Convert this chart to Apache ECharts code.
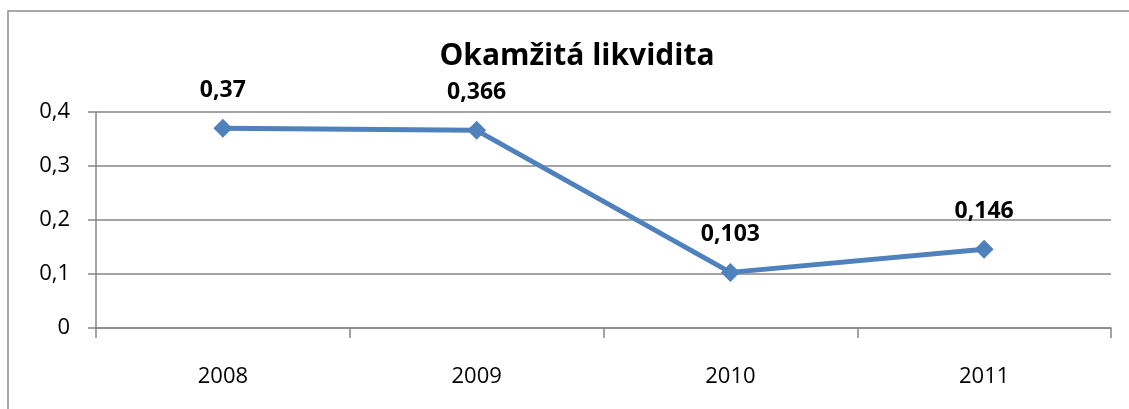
<!DOCTYPE html>
<html>
<head>
<meta charset="utf-8">
<script src="https://cdn.jsdelivr.net/npm/echarts@6/dist/echarts.min.js"></script>
<style>
html, body { margin: 0; padding: 0; background: #fff; }
#graf { width: 1129px; height: 409px; }
</style>
</head>
<body>
<div id="graf"></div>
<script>
var roky = ['2008', '2009', '2010', '2011'];
var hodnoty = [0.37, 0.366, 0.103, 0.146];
var nadpis = 'Okamžitá likvidita';

function carka(v) {
    return String(v).replace('.', ',');
}

var graf = echarts.init(document.getElementById('graf'));

var option = {
    animation: false,
    backgroundColor: '#fff',
    title: {
        text: nadpis,
        left: 572,
        top: 36,
        textAlign: 'center',
        textStyle: { fontFamily: 'Open Sans', fontWeight: 'bold', fontSize: 30, color: '#000' }
    },
    graphic: [{
        type: 'rect',
        shape: { x: 8, y: 11, width: 1140, height: 420 },
        style: { fill: 'none', stroke: '#8c8c8c', lineWidth: 1.5 }
    }],
    grid: { left: 96, right: 18, top: 112, bottom: 81 },
    xAxis: {
        type: 'category',
        data: roky,
        boundaryGap: true,
        axisLine: { lineStyle: { color: '#868686', width: 1.5 } },
        axisTick: { show: true, length: 10, inside: false, lineStyle: { color: '#868686', width: 1.5 } },
        axisLabel: { margin: 38, color: '#000', fontSize: 22, fontFamily: 'Open Sans' }
    },
    yAxis: {
        type: 'value',
        min: 0,
        max: 0.4,
        interval: 0.1,
        axisLine: { show: true, lineStyle: { color: '#868686', width: 1.5 } },
        axisTick: { show: true, length: 8, lineStyle: { color: '#868686', width: 1.5 } },
        splitLine: { lineStyle: { color: '#868686', width: 1.5 } },
        axisLabel: {
            margin: 26,
            color: '#000',
            fontSize: 22,
            fontFamily: 'Open Sans',
            formatter: function (v) { return carka(Math.round(v * 10) / 10); }
        }
    },
    series: [{
        type: 'line',
        data: hodnoty,
        color: '#4F81BD',
        lineStyle: { width: 5, color: '#4F81BD' },
        symbol: 'diamond',
        symbolSize: 19,
        itemStyle: { color: '#4F81BD' },
        label: {
            show: true,
            position: 'top',
            distance: 17,
            color: '#000',
            fontSize: 23,
            fontWeight: 'bold',
            fontFamily: 'Open Sans',
            formatter: function (p) { return carka(p.value); }
        }
    }]
};

graf.setOption(option);
</script>
</body>
</html>
